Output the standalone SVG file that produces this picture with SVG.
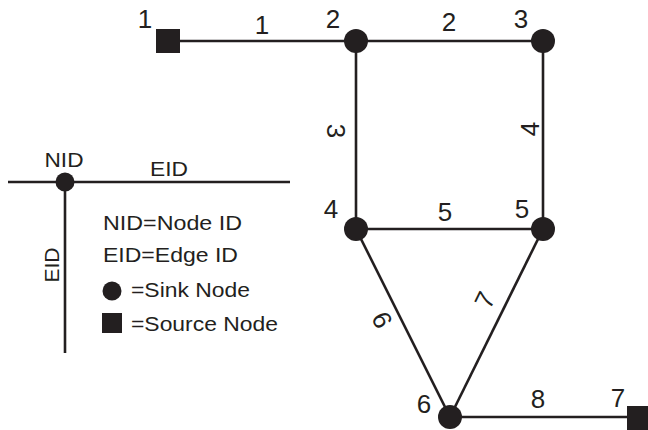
<svg xmlns="http://www.w3.org/2000/svg" width="648" height="430" viewBox="0 0 648 430">
<style>
.e{stroke:#231f20;stroke-width:2.6;fill:none}
.n{fill:#231f20}
text{font-family:"Liberation Sans",Arial,sans-serif;fill:#231f20}
.num{font-size:26px;text-anchor:middle}
.lg{font-size:21px}
</style>
<rect width="648" height="430" fill="#fff"/>
<g id="connectors">
<line class="e" x1="168" y1="41" x2="356" y2="41"/>
<line class="e" x1="356" y1="41" x2="543" y2="41"/>
<line class="e" x1="356" y1="41" x2="356" y2="229"/>
<line class="e" x1="543" y1="41" x2="543" y2="229"/>
<line class="e" x1="356" y1="229" x2="543" y2="229"/>
<line class="e" x1="356" y1="229" x2="450" y2="417"/>
<line class="e" x1="543" y1="229" x2="450" y2="417"/>
<line class="e" x1="450" y1="417" x2="639" y2="417"/>
</g>
<g id="edge-labels">
<text class="num" x="262" y="34">1</text>
<text class="num" x="449" y="31">2</text>
<text class="num" transform="translate(327,131) rotate(90)">3</text>
<text class="num" transform="translate(539,129) rotate(-90)">4</text>
<text class="num" x="445" y="221">5</text>
<text class="num" transform="translate(374,324) rotate(63.4)">6</text>
<text class="num" transform="translate(493,304) rotate(-63.7)">7</text>
<text class="num" x="538" y="408">8</text>
</g>
<g id="node1"><rect class="n" x="156" y="29" width="24" height="24"/><text class="num" x="145" y="28">1</text></g>
<g id="node2"><circle class="n" cx="356" cy="41" r="12"/><text class="num" x="333" y="28">2</text></g>
<g id="node3"><circle class="n" cx="543" cy="41" r="12"/><text class="num" x="521" y="28">3</text></g>
<g id="node4"><circle class="n" cx="356" cy="229" r="12"/><text class="num" x="331" y="218">4</text></g>
<g id="node5"><circle class="n" cx="543" cy="229" r="12"/><text class="num" x="522" y="218">5</text></g>
<g id="node6"><circle class="n" cx="450" cy="417" r="12"/><text class="num" x="424" y="413">6</text></g>
<g id="node7"><rect class="n" x="627" y="406" width="24" height="24"/><text class="num" x="618" y="407">7</text></g>
<g id="legend">
<line class="e" x1="8" y1="182" x2="290" y2="182"/>
<line class="e" x1="65" y1="182" x2="65" y2="353"/>
<circle class="n" cx="65" cy="182" r="9.5"/>
<text class="lg" x="64" y="167" text-anchor="middle" textLength="39" lengthAdjust="spacingAndGlyphs">NID</text>
<text class="lg" x="169" y="176" text-anchor="middle" textLength="38" lengthAdjust="spacingAndGlyphs">EID</text>
<text class="lg" transform="translate(59,265) rotate(-90)" text-anchor="middle">EID</text>
<text class="lg" x="103" y="230" textLength="139" lengthAdjust="spacingAndGlyphs">NID=Node ID</text>
<text class="lg" x="103" y="262" textLength="135" lengthAdjust="spacingAndGlyphs">EID=Edge ID</text>
<circle class="n" cx="112" cy="291" r="9.5"/>
<text class="lg" x="131" y="297" textLength="119" lengthAdjust="spacingAndGlyphs">=Sink Node</text>
<rect class="n" x="102" y="313" width="20" height="20"/>
<text class="lg" x="131" y="331" textLength="147" lengthAdjust="spacingAndGlyphs">=Source Node</text>
</g>
</svg>
